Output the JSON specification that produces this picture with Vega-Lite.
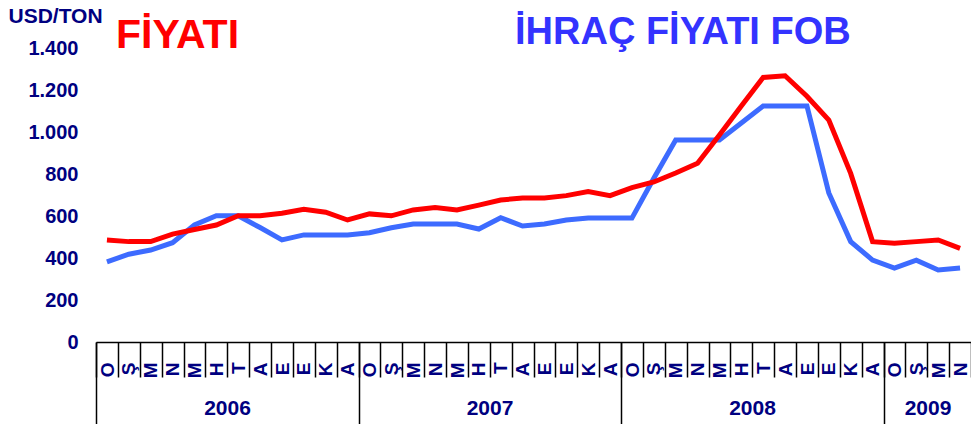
{
  "$schema": "https://vega.github.io/schema/vega-lite/v6.json",
  "width": 875,
  "height": 294,
  "autosize": {"type": "none"},
  "padding": {"left": 96, "top": 48, "right": 0, "bottom": 82},
  "background": "white",
  "config": {"view": {"stroke": null}, "font": "Liberation Sans", "axis": {"grid": false}},
  "data": {"values": [
    {"i": 0, "series": "FİYATI", "value": 486}, {"i": 1, "series": "FİYATI", "value": 478}, {"i": 2, "series": "FİYATI", "value": 478}, {"i": 3, "series": "FİYATI", "value": 514}, {"i": 4, "series": "FİYATI", "value": 536}, {"i": 5, "series": "FİYATI", "value": 557}, {"i": 6, "series": "FİYATI", "value": 601}, {"i": 7, "series": "FİYATI", "value": 601}, {"i": 8, "series": "FİYATI", "value": 613}, {"i": 9, "series": "FİYATI", "value": 632}, {"i": 10, "series": "FİYATI", "value": 618}, {"i": 11, "series": "FİYATI", "value": 581},
    {"i": 12, "series": "FİYATI", "value": 610}, {"i": 13, "series": "FİYATI", "value": 601}, {"i": 14, "series": "FİYATI", "value": 629}, {"i": 15, "series": "FİYATI", "value": 640}, {"i": 16, "series": "FİYATI", "value": 629}, {"i": 17, "series": "FİYATI", "value": 652}, {"i": 18, "series": "FİYATI", "value": 676}, {"i": 19, "series": "FİYATI", "value": 686}, {"i": 20, "series": "FİYATI", "value": 686}, {"i": 21, "series": "FİYATI", "value": 697}, {"i": 22, "series": "FİYATI", "value": 716}, {"i": 23, "series": "FİYATI", "value": 697},
    {"i": 24, "series": "FİYATI", "value": 735}, {"i": 25, "series": "FİYATI", "value": 762}, {"i": 26, "series": "FİYATI", "value": 805}, {"i": 27, "series": "FİYATI", "value": 851}, {"i": 28, "series": "FİYATI", "value": 986}, {"i": 29, "series": "FİYATI", "value": 1124}, {"i": 30, "series": "FİYATI", "value": 1260}, {"i": 31, "series": "FİYATI", "value": 1268}, {"i": 32, "series": "FİYATI", "value": 1170}, {"i": 33, "series": "FİYATI", "value": 1057}, {"i": 34, "series": "FİYATI", "value": 803}, {"i": 35, "series": "FİYATI", "value": 478},
    {"i": 36, "series": "FİYATI", "value": 470}, {"i": 37, "series": "FİYATI", "value": 478}, {"i": 38, "series": "FİYATI", "value": 486}, {"i": 39, "series": "FİYATI", "value": 446},
    {"i": 0, "series": "İHRAÇ FİYATI FOB", "value": 382}, {"i": 1, "series": "İHRAÇ FİYATI FOB", "value": 418}, {"i": 2, "series": "İHRAÇ FİYATI FOB", "value": 438}, {"i": 3, "series": "İHRAÇ FİYATI FOB", "value": 473}, {"i": 4, "series": "İHRAÇ FİYATI FOB", "value": 557}, {"i": 5, "series": "İHRAÇ FİYATI FOB", "value": 601}, {"i": 6, "series": "İHRAÇ FİYATI FOB", "value": 601}, {"i": 7, "series": "İHRAÇ FİYATI FOB", "value": 545}, {"i": 8, "series": "İHRAÇ FİYATI FOB", "value": 486}, {"i": 9, "series": "İHRAÇ FİYATI FOB", "value": 510}, {"i": 10, "series": "İHRAÇ FİYATI FOB", "value": 510}, {"i": 11, "series": "İHRAÇ FİYATI FOB", "value": 510},
    {"i": 12, "series": "İHRAÇ FİYATI FOB", "value": 520}, {"i": 13, "series": "İHRAÇ FİYATI FOB", "value": 544}, {"i": 14, "series": "İHRAÇ FİYATI FOB", "value": 562}, {"i": 15, "series": "İHRAÇ FİYATI FOB", "value": 562}, {"i": 16, "series": "İHRAÇ FİYATI FOB", "value": 562}, {"i": 17, "series": "İHRAÇ FİYATI FOB", "value": 538}, {"i": 18, "series": "İHRAÇ FİYATI FOB", "value": 592}, {"i": 19, "series": "İHRAÇ FİYATI FOB", "value": 552}, {"i": 20, "series": "İHRAÇ FİYATI FOB", "value": 562}, {"i": 21, "series": "İHRAÇ FİYATI FOB", "value": 581}, {"i": 22, "series": "İHRAÇ FİYATI FOB", "value": 590}, {"i": 23, "series": "İHRAÇ FİYATI FOB", "value": 590},
    {"i": 24, "series": "İHRAÇ FİYATI FOB", "value": 590}, {"i": 25, "series": "İHRAÇ FİYATI FOB", "value": 780}, {"i": 26, "series": "İHRAÇ FİYATI FOB", "value": 962}, {"i": 27, "series": "İHRAÇ FİYATI FOB", "value": 962}, {"i": 28, "series": "İHRAÇ FİYATI FOB", "value": 962}, {"i": 29, "series": "İHRAÇ FİYATI FOB", "value": 1043}, {"i": 30, "series": "İHRAÇ FİYATI FOB", "value": 1124}, {"i": 31, "series": "İHRAÇ FİYATI FOB", "value": 1124}, {"i": 32, "series": "İHRAÇ FİYATI FOB", "value": 1124}, {"i": 33, "series": "İHRAÇ FİYATI FOB", "value": 710}, {"i": 34, "series": "İHRAÇ FİYATI FOB", "value": 478}, {"i": 35, "series": "İHRAÇ FİYATI FOB", "value": 390},
    {"i": 36, "series": "İHRAÇ FİYATI FOB", "value": 352}, {"i": 37, "series": "İHRAÇ FİYATI FOB", "value": 390}, {"i": 38, "series": "İHRAÇ FİYATI FOB", "value": 343}, {"i": 39, "series": "İHRAÇ FİYATI FOB", "value": 352}
  ]},
  "encoding": {
    "y": {
      "field": "value", "type": "quantitative",
      "scale": {"domain": [0, 1400]},
      "axis": {
        "values": [0, 200, 400, 600, 800, 1000, 1200, 1400],
        "labelExpr": "replace(format(datum.value, ','), ',', '.')",
        "ticks": false, "domain": false, "labelPadding": 18,
        "labelFontSize": 20, "labelFontWeight": "bold", "labelColor": "#000080",
        "labelFlush": false, "labelOverlap": false,
        "title": "USD/TON", "titleAngle": 0, "titleAlign": "left", "titleBaseline": "alphabetic",
        "titleX": -88, "titleY": -26, "titleFontSize": 21, "titleFontWeight": "bold", "titleColor": "#000080"
      }
    },
    "color": {
      "field": "series", "type": "nominal",
      "scale": {"domain": ["FİYATI", "İHRAÇ FİYATI FOB"], "range": ["#ff0000", "#3d6bff"]},
      "legend": {
        "orient": "none", "legendX": -18, "legendY": -38, "direction": "horizontal",
        "title": null, "symbolSize": 0, "symbolStrokeWidth": 0, "symbolOpacity": 0,
        "labelOffset": 0, "labelFontSize": 38, "labelFontWeight": "bold", "labelLimit": 600,
        "columnPadding": 237, "padding": 0, "offset": 0,
        "encode": {"labels": {"update": {
          "fill": {"signal": "datum.value === 'FİYATI' ? '#ff0000' : '#3333ff'"},
          "fontSize": {"signal": "datum.value === 'FİYATI' ? 41 : 38"},
          "dy": {"signal": "datum.value === 'FİYATI' ? 7 : 0"}
        }}}
      }
    }
  },
  "layer": [
    {
      "transform": [{"filter": "datum.series === 'İHRAÇ FİYATI FOB'"}],
      "mark": {"type": "line", "strokeWidth": 5},
      "encoding": {
        "x": {
          "field": "i", "type": "quantitative",
          "scale": {"domain": [-0.5, 39.5], "nice": false, "zero": false},
          "axis": {
            "orient": "bottom", "title": null, "domain": false,
            "values": [-0.5, 11.5, 23.5, 35.5],
            "tickSize": 82, "tickColor": "#000000", "tickWidth": 1.5,
            "labelExpr": "datum.value < 0 ? '2006' : datum.value < 12 ? '2007' : datum.value < 24 ? '2008' : '2009'",
            "labelOffset": {"condition": {"test": "datum.value > 30", "value": 44}, "value": 131},
            "labelPadding": -27, "labelFontSize": 21, "labelFontWeight": "bold", "labelColor": "#000080",
            "labelFlush": false, "labelOverlap": false, "labelBound": false
          }
        }
      }
    },
    {
      "transform": [{"filter": "datum.series === 'FİYATI'"}],
      "mark": {"type": "line", "strokeWidth": 5},
      "encoding": {
        "x": {
          "field": "i", "type": "quantitative",
          "scale": {"domain": [-0.5, 39.5], "nice": false, "zero": false},
          "axis": {
            "orient": "bottom", "title": null, "domain": true, "domainColor": "#000000", "domainWidth": 1.5,
            "values": [-0.5, 0.5, 1.5, 2.5, 3.5, 4.5, 5.5, 6.5, 7.5, 8.5, 9.5, 10.5, 11.5, 12.5, 13.5, 14.5, 15.5, 16.5, 17.5, 18.5, 19.5, 20.5, 21.5, 22.5, 23.5, 24.5, 25.5, 26.5, 27.5, 28.5, 29.5, 30.5, 31.5, 32.5, 33.5, 34.5, 35.5, 36.5, 37.5, 38.5, 39.5],
            "tickSize": 35, "tickColor": "#000000", "tickWidth": 1.5,
            "labelExpr": "datum.value > 39 ? '' : ['O','Ş','M','N','M','H','T','A','E','E','K','A'][(datum.value + 0.5) % 12]",
            "labelAngle": 270, "labelOffset": 11, "labelPadding": -15,
            "labelFontSize": 19, "labelFontWeight": "bold", "labelColor": "#000080",
            "labelFlush": false, "labelOverlap": false, "labelBound": false
          }
        }
      }
    }
  ],
  "resolve": {"axis": {"x": "independent"}}
}
